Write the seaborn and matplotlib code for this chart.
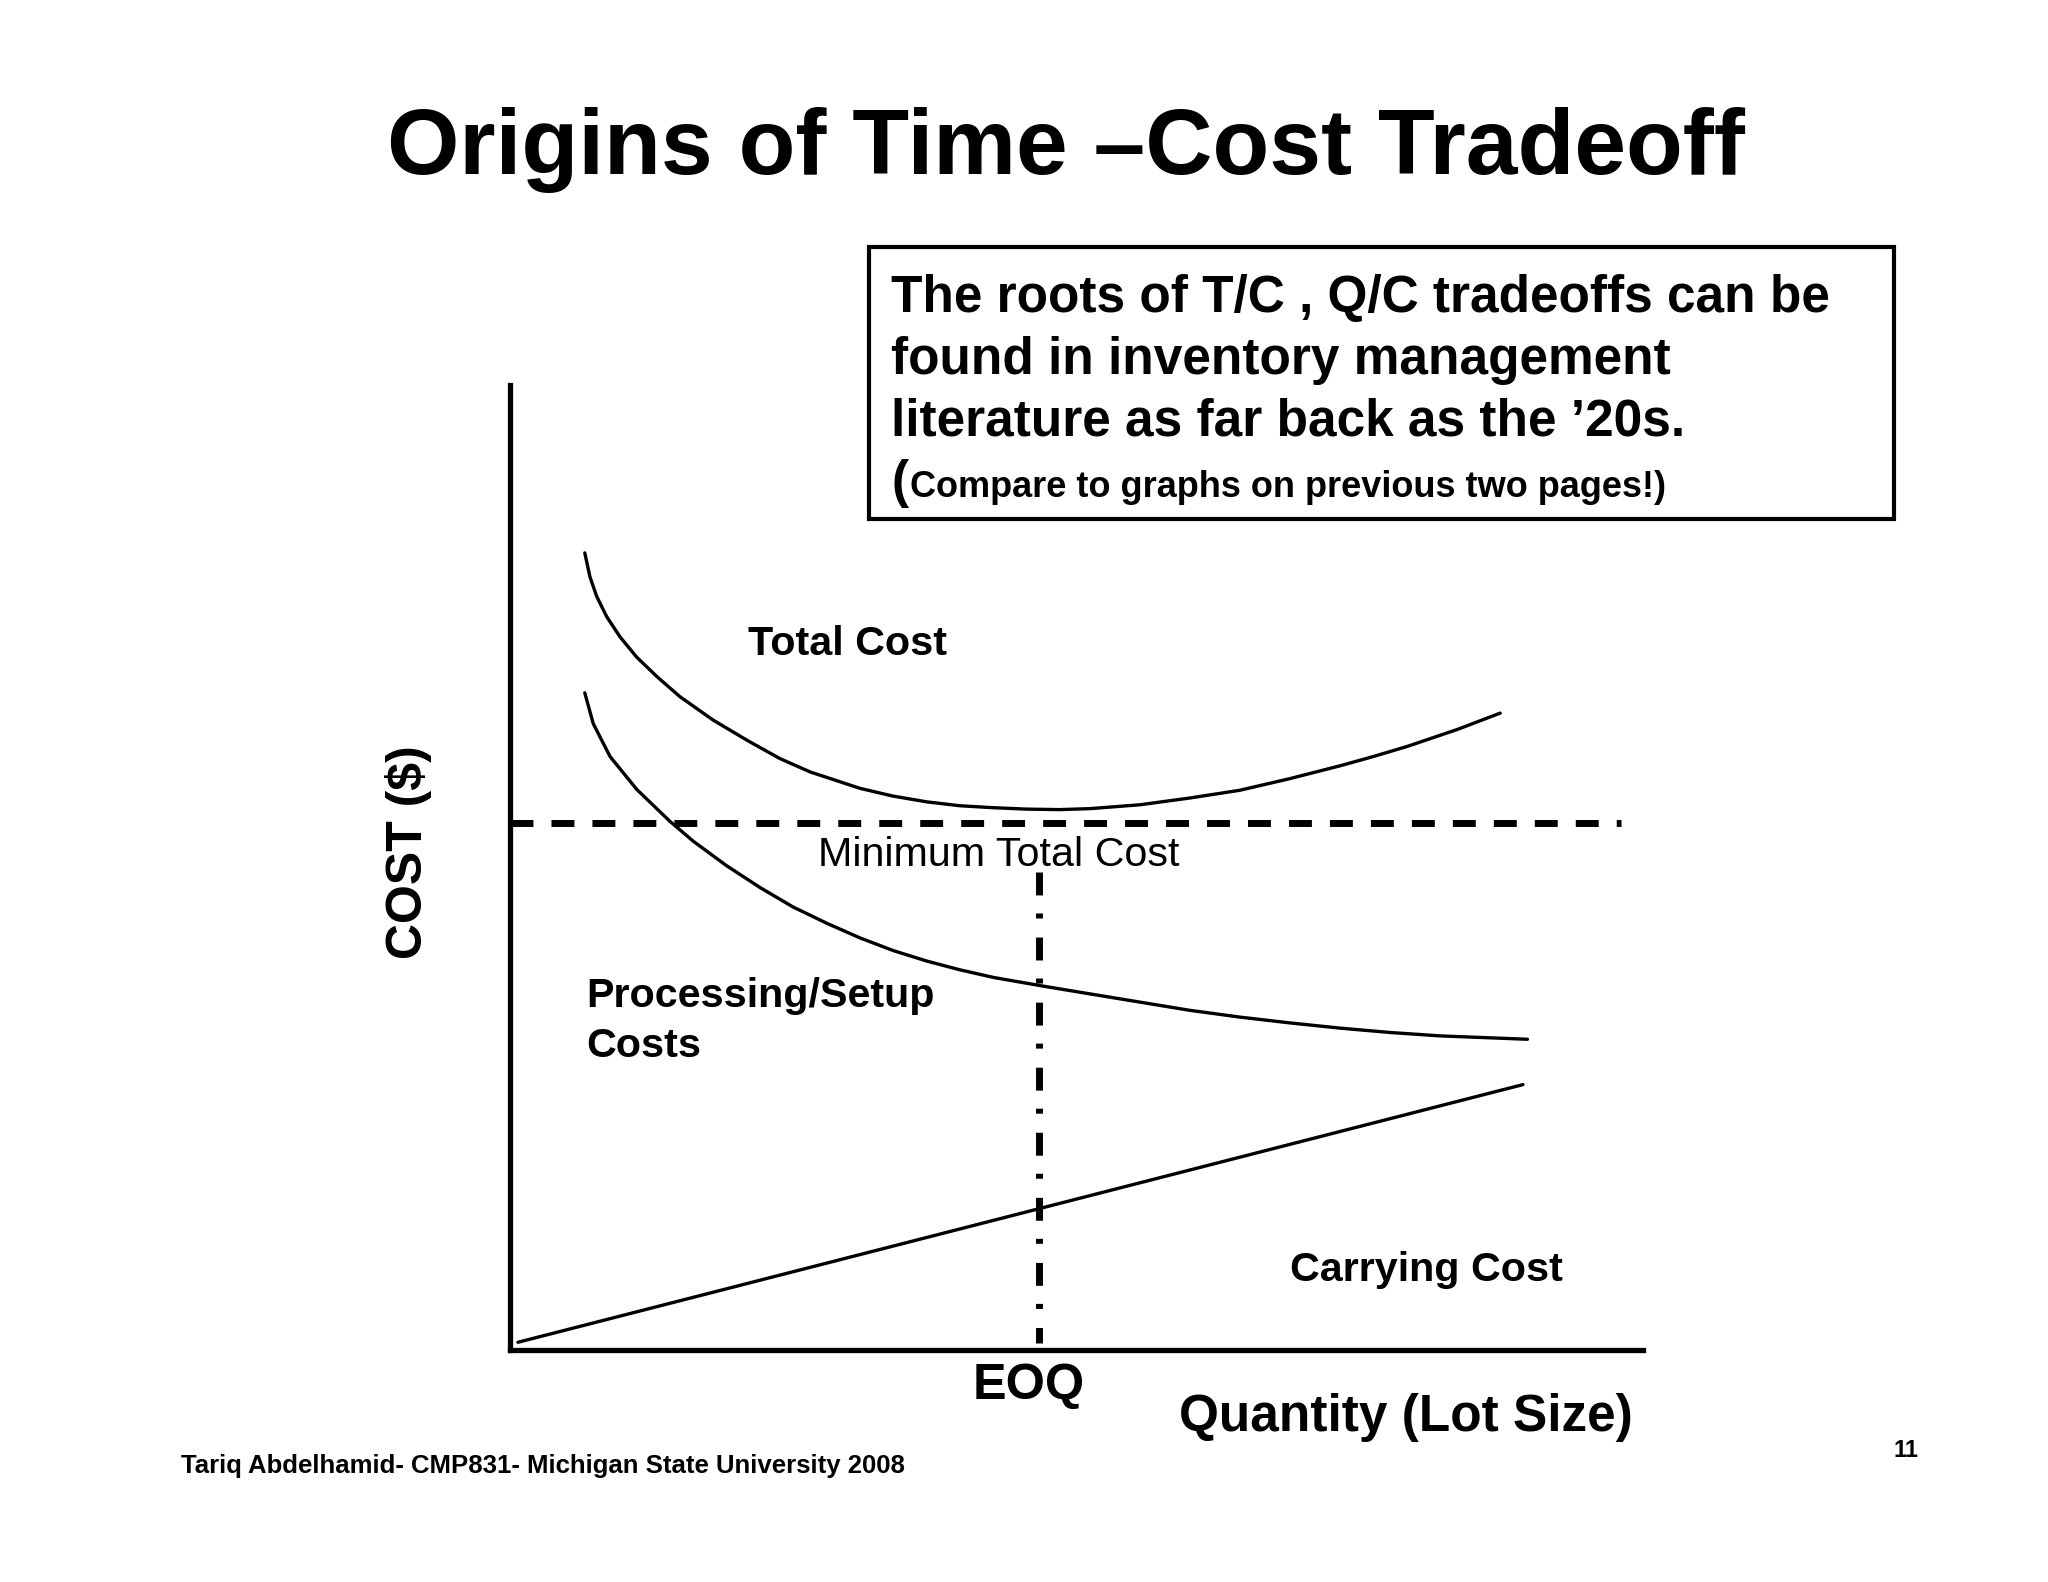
import pandas as pd
import seaborn as sns
import matplotlib.pyplot as plt
from matplotlib.patches import Rectangle

# values, lot size (x) and cost (y) on a 0-100 scale
total_x = [6.6, 7.06, 7.65, 8.53, 9.71, 11.18, 12.95, 15.0, 17.9, 20.9, 23.8, 26.5, 30.9,
           33.8, 36.8, 39.7, 42.6, 45.6, 48.5, 51.2, 55.6, 60.0, 64.4, 68.8, 73.3, 76.2,
           79.2, 83.6, 87.4]
total_y = [82.6, 80.1, 78.1, 76.0, 73.9, 71.8, 69.8, 67.7, 65.3, 63.2, 61.3, 59.9, 58.2,
           57.4, 56.8, 56.4, 56.2, 56.05, 56.0, 56.1, 56.5, 57.2, 58.0, 59.2, 60.55, 61.5,
           62.55, 64.3, 66.0]

setup_x = [6.6, 7.35, 8.83, 11.18, 14.1, 16.2, 19.1, 22.1, 25.0, 28.0, 30.9, 33.8, 36.8,
           39.7, 42.7, 47.1, 51.2, 55.6, 60.0, 64.4, 68.8, 73.3, 77.7, 82.1, 89.8]
setup_y = [68.1, 64.9, 61.5, 58.1, 54.8, 52.7, 50.2, 47.9, 45.9, 44.2, 42.7, 41.4, 40.3,
           39.4, 38.6, 37.7, 36.9, 36.05, 35.2, 34.5, 33.9, 33.35, 32.9, 32.55, 32.2]

carry_x = [0.7, 89.4]
carry_y = [0.8, 27.5]

min_cost = 54.6
min_cost_end = 98.1
eoq = 46.7
eoq_top = 49.5
eoq_bottom = 0.7

box_lines = ["The roots of T/C , Q/C tradeoffs can be",
             "found in inventory management",
             "literature as far back as the \u201920s."]

W, H = 2048, 1582

def px(x, y):
    # slide pixel -> figure fraction
    return x / W, 1 - y / H

sns.set_theme(style="white")
plt.rcParams['font.family'] = ['Liberation Sans', 'DejaVu Sans']
plt.rcParams['text.color'] = 'black'

fig = plt.figure(figsize=(W / 100, H / 100), dpi=100)
ax = fig.add_axes([510 / W, 1 - 1350 / H, (1643 - 510) / W, (1350 - 385) / H])

curves = pd.concat([
    pd.DataFrame({"qty": total_x, "cost": total_y, "curve": "total"}),
    pd.DataFrame({"qty": setup_x, "cost": setup_y, "curve": "setup"}),
    pd.DataFrame({"qty": carry_x, "cost": carry_y, "curve": "carrying"}),
])
for name, grp in curves.groupby("curve"):
    sns.lineplot(data=grp, x="qty", y="cost", ax=ax, color="black",
                 linewidth=2.4, estimator=None, sort=True)

# minimum total cost and EOQ reference lines
ax.plot([0, min_cost_end], [min_cost, min_cost], color="black", lw=5,
        linestyle=(0, (3.3, 2.6)), dash_capstyle="butt")
ax.plot([eoq, eoq], [eoq_top, eoq_bottom], color="black", lw=5,
        linestyle=(0, (3.3, 2.6, 0.72, 2.75)), dash_capstyle="butt")

ax.set_xlim(0, 100)
ax.set_ylim(0, 100)
ax.set_xlabel("")
ax.set_ylabel("")
ax.set_xticks([])
ax.set_yticks([])
sns.despine(ax=ax)
for side in ["left", "bottom"]:
    ax.spines[side].set_color("black")
    ax.spines[side].set_linewidth(3.8)

# text on the slide
fig.text(*px(1066, 174), "Origins of Time \u2013Cost Tradeoff", ha="center", va="baseline",
         fontsize=67, fontweight="bold")

fig.patches.append(Rectangle(px(869, 519), (1894 - 869) / W, (519 - 247) / H,
                             transform=fig.transFigure, fill=False,
                             edgecolor="black", linewidth=3))
for i, line in enumerate(box_lines):
    fig.text(*px(891, 312 + 62 * i), line, ha="left", va="baseline",
             fontsize=37, fontweight="bold")
fig.text(*px(891, 497), "(", ha="left", va="baseline", fontsize=37, fontweight="bold")
fig.text(*px(910, 497), "Compare to graphs on previous two pages!)", ha="left",
         va="baseline", fontsize=26, fontweight="bold")

fig.text(*px(748, 655), "Total Cost", ha="left", va="baseline", fontsize=29.7, fontweight="bold")
fig.text(*px(818, 866), "Minimum Total Cost", ha="left", va="baseline", fontsize=29.7)
fig.text(*px(586, 1007), "Processing/Setup", ha="left", va="baseline", fontsize=29.7, fontweight="bold")
fig.text(*px(586, 1057), "Costs", ha="left", va="baseline", fontsize=29.7, fontweight="bold")
fig.text(*px(1290, 1281), "Carrying Cost", ha="left", va="baseline", fontsize=29.7, fontweight="bold")

fig.text(*px(973, 1399), "EOQ", ha="left", va="baseline", fontsize=36.3, fontweight="bold")
fig.text(*px(1179, 1431), "Quantity (Lot Size)", ha="left", va="baseline", fontsize=37, fontweight="bold")
fig.text(*px(408, 852), "COST ($)", ha="center", va="center", rotation=90,
         fontsize=36, fontweight="bold")

fig.text(*px(181, 1473), "Tariq Abdelhamid- CMP831- Michigan State University 2008",
         ha="left", va="baseline", fontsize=18.5, fontweight="bold")
fig.text(*px(1906, 1457), "11", ha="center", va="baseline", fontsize=17, fontweight="bold")

fig.savefig("out.png", dpi=100)
